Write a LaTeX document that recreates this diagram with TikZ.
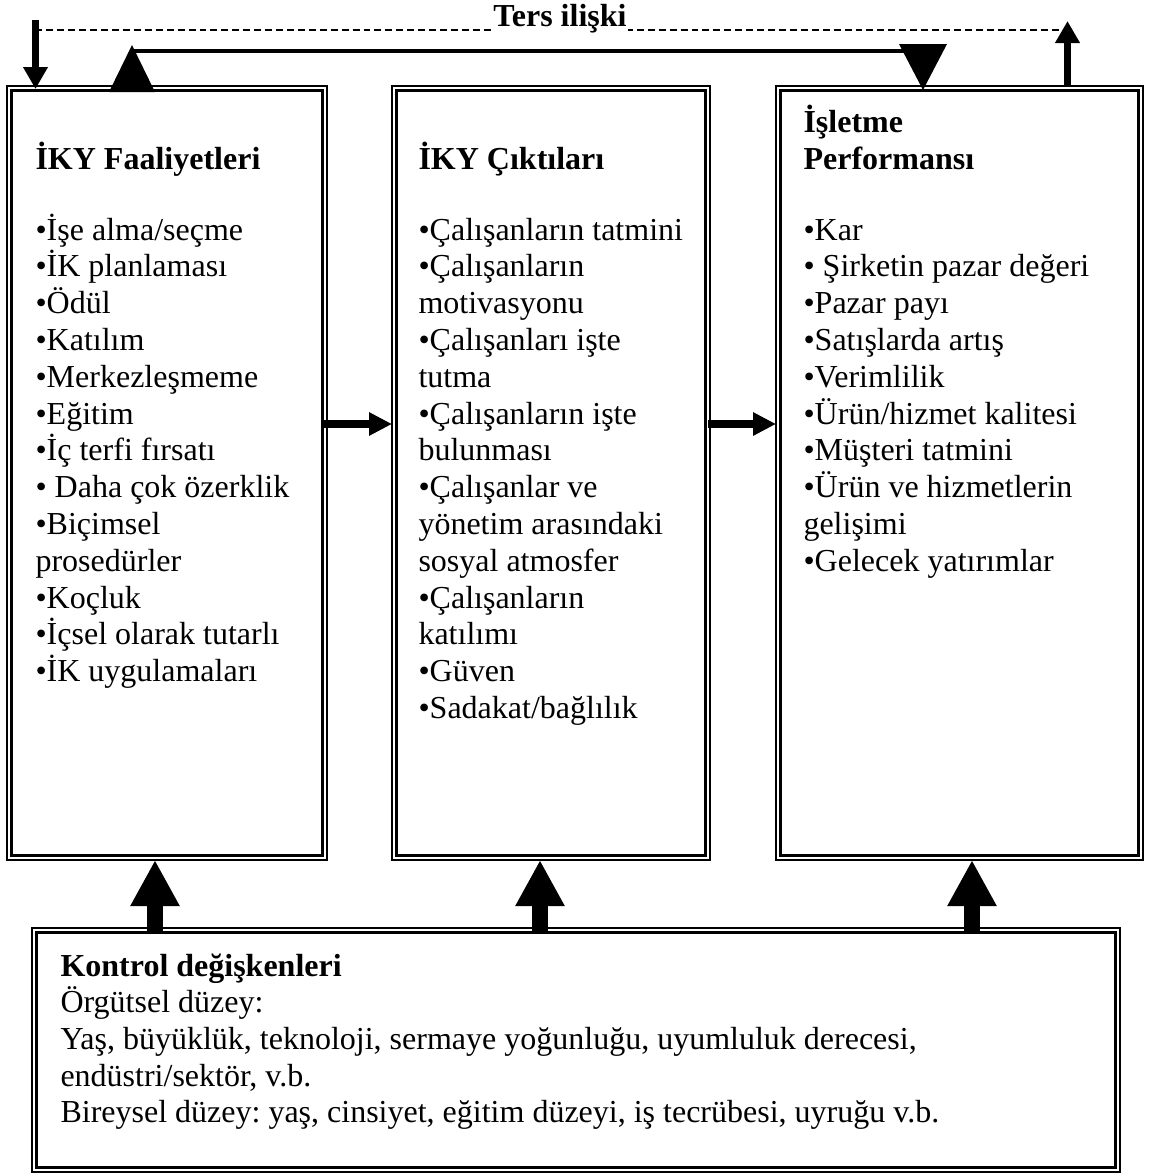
\documentclass[tikz,border=0pt]{standalone}
\usepackage{fontspec}
\setmainfont{Liberation Serif}
\usetikzlibrary{arrows.meta,fit,calc}
\frenchspacing
% double frame: thin outer line, thicker inner line
\newcommand\dframe[3]{%
  \node[outerframe, fit={#2 #3}] (#1) {};
  \draw[innerframe] ($(#1.north west)+(4.4,4.4)$) rectangle ($(#1.south east)+(-4.4,-4.4)$);
}
\begin{document}
\begin{tikzpicture}[x=0.375pt,y=-0.375pt,
  outerframe/.style={draw, line width=0.56pt, inner sep=0pt, outer sep=0pt},
  innerframe/.style={line width=1pt},
  txt/.style={anchor=base west, inner sep=0pt, font=\fontsize{12}{13.8}\selectfont\frenchspacing},
  head/.style={txt, font=\fontsize{12}{13.8}\selectfont\bfseries},
  bigup/.style={line width=6pt, -{Triangle[width=17.25pt,length=17.25pt]}},
  midarrow/.style={line width=3pt, -{Triangle[width=8.25pt,length=8.6pt]}},
  toparrow/.style={line width=2.8pt, -{Triangle[width=8.8pt,length=8.25pt]}},
  feedback/.style={line width=0.45pt, dash pattern=on 2.6pt off 1.5pt},
  linkline/.style={line width=1.5pt},
]
\useasboundingbox (0,0) rectangle (1150,1175);

% frames
\dframe{b1}{(7,86)}{(327,860)}
\dframe{b2}{(392,86)}{(710,860)}
\dframe{b3}{(776,86)}{(1143,860)}
\dframe{bot}{(32,928)}{(1120,1172)}

% feedback (dashed) link across the top
\coordinate (fbL) at (35.5,20);
\coordinate (fbR) at (1067.5,21);
\coordinate (fb1) at (35.5,30);
\coordinate (fb2) at (1067.5,30);
\draw[feedback] (fb1) -- (fb2);
\draw[toparrow] (fbL) -- ($(fbL |- b1.north)+(0,3)$);
\draw[toparrow] (fbR |- b3.north) -- (fbR);
\node[head, anchor=base, fill=white, inner xsep=0.5pt] (ters) at (560,26) {Ters ilişki};

% solid link from activities to performance
\coordinate (lk1) at (132,50.7);
\coordinate (lk2) at (923,50.7);
\draw[linkline] (lk1) -- (lk2);
\fill (109,92) -- (132,45) -- (155,92) -- cycle;
\fill (899,44) -- (947,44) -- (923,90) -- cycle;

% arrows between the three boxes
\coordinate (my) at (0,424);
\coordinate (m1s) at ($(b1.east |- my)+(-4.5,0)$);
\coordinate (m2s) at ($(b2.east |- my)+(-2,0)$);
\draw[midarrow] (m1s) -- (b2.west |- my);
\draw[midarrow] (m2s) -- (b3.west |- my);

% control variables feeding upward
\coordinate (u1) at (155,0);
\coordinate (u2) at (540,0);
\coordinate (u3) at (972,0);
\draw[bigup] ($(u1 |- bot.north)+(0,5)$) -- (u1 |- b1.south);
\draw[bigup] ($(u2 |- bot.north)+(0,5)$) -- (u2 |- b2.south);
\draw[bigup] ($(u3 |- bot.north)+(0,5)$) -- (u3 |- b3.south);

% box 1 text
\node[head] (h1) at (35,169) {İKY Faaliyetleri};
\foreach \t [count=\i from 0] in {•İşe alma/seçme, •İK planlaması, •Ödül, •Katılım,
  •Merkezleşmeme, •Eğitim, •İç terfi fırsatı, • Daha çok özerklik, •Biçimsel,
  prosedürler, •Koçluk, •İçsel olarak tutarlı, •İK uygulamaları}
  \node[txt] (a\i) at (35,{240+36.8*\i}) {\t};

% box 2 text
\node[head] (h2) at (418,169) {İKY Çıktıları};
\foreach \t [count=\i from 0] in {•Çalışanların tatmini, •Çalışanların, motivasyonu,
  •Çalışanları işte, tutma, •Çalışanların işte, bulunması, •Çalışanlar ve,
  yönetim arasındaki, sosyal atmosfer, •Çalışanların, katılımı, •Güven,
  •Sadakat/bağlılık}
  \node[txt] (c\i) at (418,{240+36.8*\i}) {\t};

% box 3 text
\node[head] (h3a) at (803,132) {İşletme};
\node[head] (h3b) at (803,169) {Performansı};
\foreach \t [count=\i from 0] in {•Kar, • Şirketin pazar değeri, •Pazar payı,
  •Satışlarda artış, •Verimlilik, •Ürün/hizmet kalitesi, •Müşteri tatmini,
  •Ürün ve hizmetlerin, gelişimi, •Gelecek yatırımlar}
  \node[txt] (p\i) at (803,{240+36.8*\i}) {\t};

% control variables text
\node[head] (k0) at (60,976) {Kontrol değişkenleri};
\foreach \t [count=\i] in {Örgütsel düzey:,
  {Yaş, büyüklük, teknoloji, sermaye yoğunluğu, uyumluluk derecesi,},
  {endüstri/sektör, v.b.},
  {Bireysel düzey: yaş, cinsiyet, eğitim düzeyi, iş tecrübesi, uyruğu v.b.}}
  \node[txt] (k\i) at (60,{976+36.7*\i}) {\t};
\end{tikzpicture}
\end{document}
